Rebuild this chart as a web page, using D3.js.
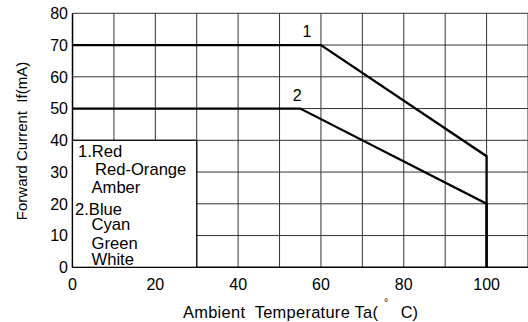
<!DOCTYPE html>
<html>
<head>
<meta charset="utf-8">
<script src="https://cdn.jsdelivr.net/npm/d3@7"></script>
<style>
  html, body { margin: 0; padding: 0; background: #fff; }
  svg { display: block; font-family: "Liberation Sans", Arial, Helvetica, sans-serif; }
  text { white-space: pre; }
</style>
</head>
<body>
<svg id="chart" width="528" height="322"></svg>
<script>
// Derating curves: forward current vs ambient temperature
const temps1 = [0, 60, 100, 100];
const current1 = [70, 70, 35, 0];
const temps2 = [0, 55, 100, 100];
const current2 = [50, 50, 20, 0];

const xTicks = [0, 20, 40, 60, 80, 100];
const yTicks = [0, 10, 20, 30, 40, 50, 60, 70, 80];
const xGrid = [10, 20, 30, 40, 50, 60, 70, 80, 90, 100, 110];
const yGrid = [10, 20, 30, 40, 50, 60, 70, 80];

const seriesNames = ["1", "2"];
const legendGroups = [
  ["1.Red", "Red-Orange", "Amber"],
  ["2.Blue", "Cyan", "Green", "White"]
];

const xTitle = "Ambient  Temperature Ta(";
const xTitleDegree = "°";
const xTitleUnit = "C)";
const yTitle = "Forward Current  If(mA)";

const svg = d3.select("#chart");

const x = d3.scaleLinear().domain([0, 110]).range([72.5, 528]);
const y = d3.scaleLinear().domain([0, 80]).range([267.3, 13.3]);

// Grid
const grid = svg.append("g").attr("stroke", "#333").attr("stroke-width", 1);
grid.selectAll("line.v").data(xGrid).join("line")
  .attr("class", "v")
  .attr("x1", d => x(d)).attr("x2", d => x(d))
  .attr("y1", y(80)).attr("y2", y(0));
grid.selectAll("line.h").data(yGrid).join("line")
  .attr("class", "h")
  .attr("x1", x(0)).attr("x2", 528)
  .attr("y1", d => y(d)).attr("y2", d => y(d));

// Axes lines
svg.append("line")
  .attr("x1", x(0)).attr("x2", x(0)).attr("y1", y(80)).attr("y2", y(0))
  .attr("stroke", "#000").attr("stroke-width", 1.5);
svg.append("line")
  .attr("x1", x(0)).attr("x2", 528).attr("y1", y(0)).attr("y2", y(0))
  .attr("stroke", "#000").attr("stroke-width", 1.5);

// Tick labels
svg.append("g").selectAll("text").data(yTicks).join("text")
  .attr("x", 68).attr("y", d => y(d)).attr("dy", "0.36em")
  .attr("text-anchor", "end").attr("font-size", 16).attr("fill", "#000")
  .text(d => d);
svg.append("g").selectAll("text").data(xTicks).join("text")
  .attr("x", d => x(d)).attr("y", 289.5)
  .attr("text-anchor", "middle").attr("font-size", 16).attr("fill", "#000")
  .text(d => d);

// X axis title: text, raised degree mark, unit
const xt = svg.append("g").attr("fill", "#000");
xt.append("text").attr("x", 183).attr("y", 318)
  .attr("font-size", 16.4)
  .attr("textLength", 195).attr("lengthAdjust", "spacing")
  .text(xTitle);
xt.append("text").attr("x", 384).attr("y", 306)
  .attr("font-size", 10).text(xTitleDegree);
xt.append("text").attr("x", 418).attr("y", 318)
  .attr("text-anchor", "end").attr("font-size", 16.4).text(xTitleUnit);

svg.append("text")
  .attr("transform", `translate(27,${141}) rotate(-90)`)
  .attr("text-anchor", "middle")
  .attr("font-size", 15).attr("fill", "#000")
  .text(yTitle);

// Legend box covering the lower-left grid cells
svg.append("rect")
  .attr("x", x(0)).attr("y", y(40))
  .attr("width", x(30) - x(0)).attr("height", y(0) - y(40))
  .attr("fill", "#fff").attr("stroke", "#000").attr("stroke-width", 1.2);

const legendLines = [
  { text: legendGroups[0][0], x: 78, y: 156.7 },
  { text: legendGroups[0][1], x: 95, y: 175 },
  { text: legendGroups[0][2], x: 91.5, y: 193.3 },
  { text: legendGroups[1][0], x: 75, y: 215 },
  { text: legendGroups[1][1], x: 91.5, y: 230 },
  { text: legendGroups[1][2], x: 91.5, y: 249.3 },
  { text: legendGroups[1][3], x: 91.5, y: 265 }
];
svg.append("g").selectAll("text").data(legendLines).join("text")
  .attr("x", d => d.x).attr("y", d => d.y)
  .attr("font-size", 16.6).attr("fill", "#000")
  .text(d => d.text);

// Curves
const line = d3.line().x(d => x(d[0])).y(d => y(d[1]));
const curves = [
  d3.zip(temps1, current1),
  d3.zip(temps2, current2)
];
svg.append("g").selectAll("path").data(curves).join("path")
  .attr("d", line)
  .attr("fill", "none").attr("stroke", "#000").attr("stroke-width", 2.3)
  .attr("stroke-linejoin", "miter");

// Curve labels near the knee points
svg.append("text").attr("x", x(temps1[1]) - 14).attr("y", y(current1[1]) - 7.6)
  .attr("text-anchor", "middle").attr("font-size", 16).text(seriesNames[0]);
svg.append("text").attr("x", x(temps2[1]) - 3).attr("y", y(current2[1]) - 8)
  .attr("text-anchor", "middle").attr("font-size", 16).text(seriesNames[1]);
</script>
</body>
</html>
